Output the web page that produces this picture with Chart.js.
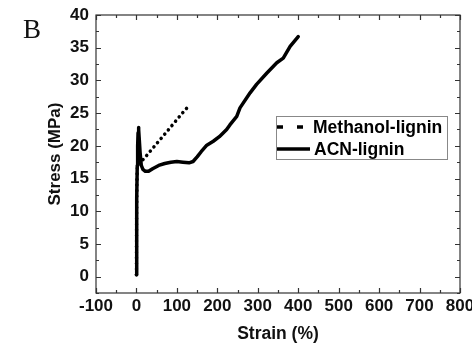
<!DOCTYPE html>
<html>
<head>
<meta charset="utf-8">
<script src="https://cdn.jsdelivr.net/npm/chart.js@4"></script>
<style>
  html, body { margin: 0; padding: 0; background: #fff; }
  #wrap { width: 472px; height: 343px; }
</style>
</head>
<body>
<div id="wrap"><canvas id="chart" width="472" height="343"></canvas></div>
<script>
// tick labels
const xTicks = [-100, 0, 100, 200, 300, 400, 500, 600, 700, 800];
const yTicks = [0, 5, 10, 15, 20, 25, 30, 35, 40];

// Methanol-lignin (dotted)
const methStrain = [0, 0.3, 1, 2, 4, 8, 15, 25, 40, 55, 70, 85, 100, 115, 125];
const methStress = [0.3, 8, 14, 16.5, 17.3, 17.6, 17.8, 18.5, 19.6, 20.7, 21.8, 22.9, 24.0, 25.1, 25.8];

// ACN-lignin (solid)
const acnStrain = [0, 0.3, 1, 2, 3, 4, 5, 6, 7, 9, 12, 16, 22, 30, 40, 55, 70, 85, 100, 115, 130, 140, 150, 160, 174, 190, 205, 223, 231, 248, 256, 281, 297, 322, 347, 363, 380, 400];
const acnStress = [0.3, 5, 12, 17, 20, 22, 22.8, 22.4, 21, 19, 17, 16.4, 16.1, 16.1, 16.5, 17, 17.3, 17.5, 17.6, 17.5, 17.4, 17.6, 18.3, 19.1, 20.1, 20.7, 21.4, 22.5, 23.2, 24.5, 25.8, 28.1, 29.4, 31.1, 32.7, 33.4, 35.2, 36.7];

const FONT = "'Liberation Sans', Arial, sans-serif";

// inward ticks, frame, panel letter and boxed legend
const framePlugin = {
  id: "frame",
  afterDraw(chart) {
    const { ctx, chartArea: a, scales } = chart;
    const xs = scales.x, ys = scales.y;
    ctx.save();
    ctx.strokeStyle = "#333";
    ctx.lineWidth = 1.2;
    ctx.strokeRect(a.left, a.top, a.right - a.left, a.bottom - a.top);

    ctx.beginPath();
    for (let i = 0; i < xTicks.length; i++) {
      const vals = [xTicks[i]];
      if (i < xTicks.length - 1) vals.push((xTicks[i] + xTicks[i + 1]) / 2);
      vals.forEach((v, j) => {
        const px = Math.round(xs.getPixelForValue(v)) + 0.5;
        const len = j === 0 ? 5 : 3;
        ctx.moveTo(px, a.bottom); ctx.lineTo(px, a.bottom - len);
        ctx.moveTo(px, a.top); ctx.lineTo(px, a.top + len);
      });
    }
    const yAll = [-2.5].concat(yTicks);
    yAll.forEach(v => {
      const py = Math.round(ys.getPixelForValue(v)) + 0.5;
      const len = v % 5 === 0 ? 5 : 3;
      ctx.moveTo(a.left, py); ctx.lineTo(a.left + len, py);
      ctx.moveTo(a.right, py); ctx.lineTo(a.right - len, py);
      if (v < 40) {
        const pm = Math.round(ys.getPixelForValue(v + 2.5)) + 0.5;
        ctx.moveTo(a.left, pm); ctx.lineTo(a.left + 3, pm);
        ctx.moveTo(a.right, pm); ctx.lineTo(a.right - 3, pm);
      }
    });
    ctx.stroke();

    // panel letter
    ctx.fillStyle = "#111";
    ctx.font = "27px 'Liberation Serif', 'Times New Roman', serif";
    ctx.textBaseline = "alphabetic";
    ctx.fillText("B", 23, 38);

    // legend
    const lx = 276, ly = 116, lw = 171, lh = 43;
    ctx.strokeStyle = "#888";
    ctx.lineWidth = 1;
    ctx.strokeRect(lx + 0.5, ly + 0.5, lw, lh);
    ctx.font = "bold 17.5px " + FONT;
    ctx.textBaseline = "middle";
    chart.data.datasets.forEach((ds, i) => {
      const cy = ly + 11 + i * 22;
      ctx.beginPath();
      ctx.strokeStyle = "#000";
      ctx.lineWidth = 3.5;
      if (i === 0) ctx.setLineDash([6, 14]); else ctx.setLineDash([]);
      ctx.moveTo(lx + 1, cy); ctx.lineTo(lx + (i === 0 ? 27 : 34), cy);
      ctx.stroke();
      ctx.setLineDash([]);
      ctx.fillStyle = "#000";
      ctx.fillText(ds.label, lx + (i === 0 ? 37 : 38), cy + 1);
    });
    ctx.restore();
  }
};

new Chart(document.getElementById("chart"), {
  type: "scatter",
  data: {
    datasets: [
      {
        label: "Methanol-lignin",
        data: methStrain.map((x, i) => ({ x, y: methStress[i] })),
        showLine: true,
        borderColor: "#000",
        borderWidth: 3.5,
        borderDash: [0.1, 5.5],
        borderCapStyle: "round",
        pointRadius: 0
      },
      {
        label: "ACN-lignin",
        data: acnStrain.map((x, i) => ({ x, y: acnStress[i] })),
        showLine: true,
        borderColor: "#000",
        borderWidth: 3.5,
        borderJoinStyle: "round",
        borderCapStyle: "round",
        pointRadius: 0
      }
    ]
  },
  options: {
    responsive: false,
    animation: false,
    layout: { padding: { top: 15, right: 12, bottom: 0, left: 0 } },
    plugins: { legend: { display: false }, tooltip: { enabled: false } },
    scales: {
      x: {
        type: "linear",
        min: -100,
        max: 800,
        grid: { display: false, drawTicks: false },
        border: { display: false },
        afterBuildTicks: s => { s.ticks = xTicks.map(v => ({ value: v })); },
        afterFit: s => { s.height = 50; s.paddingLeft = 0; s.paddingRight = 0; },
        ticks: { color: "#111", padding: 3, maxRotation: 0, autoSkip: false, font: { family: FONT, size: 17, weight: "bold" } },
        title: { display: true, text: "Strain (%)", color: "#111", padding: { top: 0, bottom: -2 }, font: { family: FONT, size: 17.5, weight: "bold" } }
      },
      y: {
        type: "linear",
        min: -2.5,
        max: 40,
        grid: { display: false, drawTicks: false },
        border: { display: false },
        afterBuildTicks: s => { s.ticks = yTicks.map(v => ({ value: v })); },
        afterFit: s => { s.width = 96; s.paddingTop = 0; s.paddingBottom = 0; },
        ticks: { color: "#111", padding: 7, autoSkip: false, font: { family: FONT, size: 17, weight: "bold" } },
        title: { display: true, text: "Stress (MPa)", color: "#111", padding: { top: 45, bottom: 0 }, font: { family: FONT, size: 17, weight: "bold" } }
      }
    }
  },
  plugins: [framePlugin]
});
</script>
</body>
</html>
